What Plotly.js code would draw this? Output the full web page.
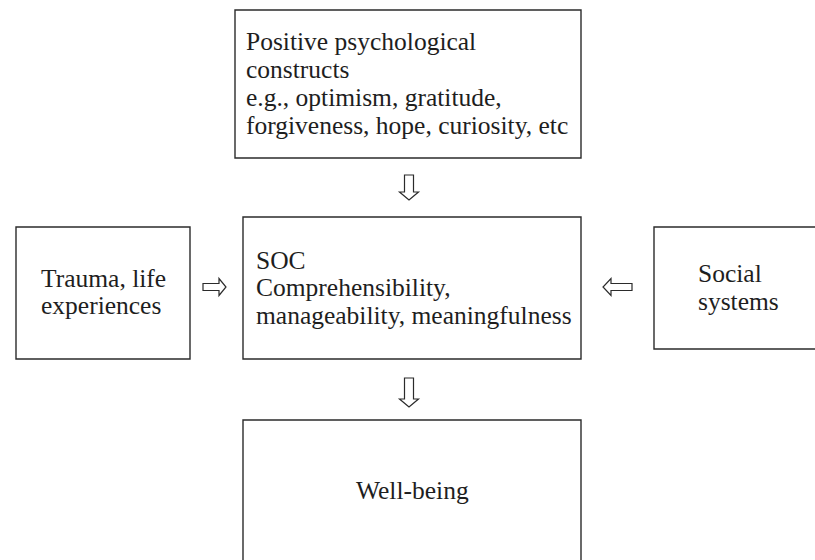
<!DOCTYPE html>
<html>
<head>
<meta charset="utf-8">
<script src="https://cdn.plot.ly/plotly-3.0.1.min.js"></script>
<style>html,body{margin:0;padding:0;background:#fff;}#chart{width:815px;height:560px;}</style>
</head>
<body>
<div id="chart"></div>
<script>
// Diagram content
var boxNames = ["constructs", "trauma", "soc", "social", "wellbeing"];
var boxTexts = [
  "Positive psychological<br>constructs<br>e.g., optimism, gratitude,<br>forgiveness, hope, curiosity, etc",
  "Trauma, life<br>experiences",
  "SOC<br>Comprehensibility,<br>manageability, meaningfulness",
  "Social<br>systems",
  "Well-being"
];
var arrowFrom = ["constructs", "trauma", "social", "soc"];
var arrowTo   = ["soc", "soc", "soc", "wellbeing"];

// Layout geometry (pixel coordinates on a 815x560 canvas); ty = centre of first line
var geom = {
  constructs: {x0: 235, x1: 581, y0: 10,  y1: 158, tx: 245, ty: 41.5, pitch: 28.1, align: "left"},
  trauma:     {x0: 16,  x1: 190, y0: 227, y1: 359, tx: 40,  ty: 278.5, pitch: 26.8, align: "left"},
  soc:        {x0: 243, x1: 581, y0: 217, y1: 359, tx: 255, ty: 260, pitch: 27.6, align: "left"},
  social:     {x0: 654, x1: 840, y0: 227, y1: 349, tx: 697, ty: 273.5, pitch: 27.6, align: "left"},
  wellbeing:  {x0: 243, x1: 581, y0: 420, y1: 580, tx: 412, ty: 490.5, pitch: 28, align: "center"}
};
var arrowGeom = [
  {dir: "down",  cx: 409, y0: 175, y1: 200},
  {dir: "right", cy: 287, x0: 203, x1: 226},
  {dir: "left",  cy: 287, x0: 603, x1: 632},
  {dir: "down",  cx: 409, y0: 378, y1: 407}
];

var lineColor = "#2b2b2b";
var fontFamily = "Liberation Serif";
var shapes = [];
var annotations = [];

boxNames.forEach(function (n, i) {
  var g = geom[n];
  shapes.push({type: "rect", xref: "x", yref: "y", x0: g.x0, x1: g.x1, y0: g.y0, y1: g.y1,
    line: {color: lineColor, width: 1.4}, fillcolor: "rgba(0,0,0,0)"});
  boxTexts[i].split("<br>").forEach(function (line, k) {
    annotations.push({xref: "x", yref: "y", x: g.tx, y: g.ty + k * g.pitch, text: line, showarrow: false,
      xanchor: g.align === "left" ? "left" : "center", yanchor: "middle", align: g.align,
      xshift: g.align === "left" ? -1 : 0,
      font: {family: fontFamily, size: 25.5, color: "#1e1e1e"}});
  });
});

function arrowPath(a) {
  var sw = 4.5, hw = 9.5, hl = 8;
  if (a.dir === "down") {
    var c = a.cx, t = a.y0, b = a.y1, h = b - hl;
    return "M" + (c - sw) + "," + t + " L" + (c + sw) + "," + t + " L" + (c + sw) + "," + h +
      " L" + (c + hw) + "," + h + " L" + c + "," + b + " L" + (c - hw) + "," + h +
      " L" + (c - sw) + "," + h + " Z";
  }
  var cy = a.cy, s3 = 3.5, h3 = 8.5;
  if (a.dir === "right") {
    var hx = a.x1 - 7;
    return "M" + a.x0 + "," + (cy - s3) + " L" + hx + "," + (cy - s3) + " L" + hx + "," + (cy - h3) +
      " L" + a.x1 + "," + cy + " L" + hx + "," + (cy + h3) + " L" + hx + "," + (cy + s3) +
      " L" + a.x0 + "," + (cy + s3) + " Z";
  }
  var hx2 = a.x0 + 8;
  return "M" + a.x1 + "," + (cy - s3) + " L" + hx2 + "," + (cy - s3) + " L" + hx2 + "," + (cy - h3) +
    " L" + a.x0 + "," + cy + " L" + hx2 + "," + (cy + h3) + " L" + hx2 + "," + (cy + s3) +
    " L" + a.x1 + "," + (cy + s3) + " Z";
}
arrowFrom.forEach(function (f, i) {
  shapes.push({type: "path", xref: "x", yref: "y", path: arrowPath(arrowGeom[i]),
    line: {color: lineColor, width: 1.2}, fillcolor: "#ffffff"});
});

var layout = {
  width: 815, height: 560,
  margin: {l: 0, r: 0, t: 0, b: 0},
  paper_bgcolor: "#ffffff", plot_bgcolor: "#ffffff",
  xaxis: {range: [0, 815], visible: false, fixedrange: true},
  yaxis: {range: [560, 0], visible: false, fixedrange: true},
  shapes: shapes, annotations: annotations, showlegend: false
};
Plotly.newPlot("chart", [{x: [], y: [], type: "scatter", mode: "markers"}], layout, {staticPlot: true});
</script>
</body>
</html>
